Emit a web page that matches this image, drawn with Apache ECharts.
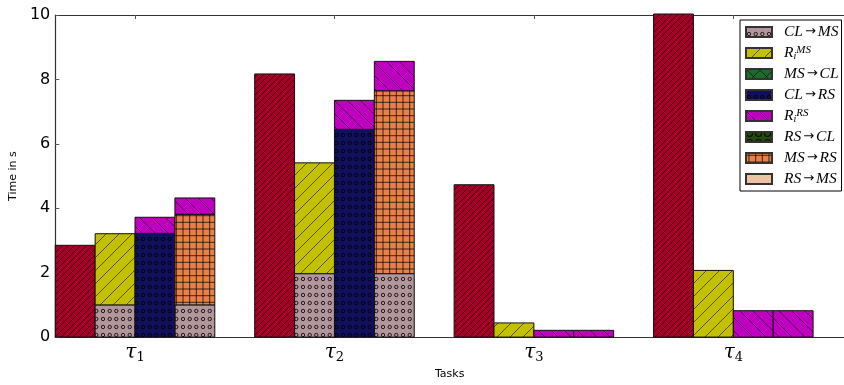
<!DOCTYPE html>
<html><head><meta charset="utf-8">
<script src="https://cdn.jsdelivr.net/npm/echarts@6/dist/echarts.min.js"></script>
<style>html,body{margin:0;padding:0;background:#fff}#c{width:844px;height:385px}</style>
</head><body><div id="c"></div>
<script>
// ---- data ----
const taskIndex = ['1', '2', '3', '4'];
const yTicks = [0, 2, 4, 6, 8, 10];
const legendNames = ['CL→MS', 'R_i^MS', 'MS→CL', 'CL→RS', 'R_i^RS', 'RS→CL', 'MS→RS', 'RS→MS'];
// bar slot 0 (reference bar, not in legend)
const baseline = [2.85, 8.17, 4.73, 10.6];
// bar slot 1
const slot1_clToMs = [1.0, 1.97, 0, 0];
const slot1_riMs = [2.21, 3.44, 0.44, 2.07];
const slot1_msToCl = [0, 0, 0, 0];
// bar slot 2
const slot2_clToRs = [3.22, 6.45, 0, 0];
const slot2_riRs = [0.50, 0.90, 0.21, 0.82];
const slot2_rsToCl = [0, 0, 0, 0];
// bar slot 3
const slot3_clToMs = [1.0, 1.97, 0, 0];
const slot3_msToRs = [2.81, 5.67, 0, 0];
const slot3_riRs = [0.51, 0.92, 0.21, 0.82];
const slot3_rsToMs = [0, 0, 0, 0];
const slot3_msToCl = [0, 0, 0, 0];

// ---- hatch patterns ----
function pat(bg, kind) {
  const c = document.createElement('canvas');
  let w = 13, h = 13;
  if (kind === 'dense/') { w = h = 6; }
  if (kind === 'dots') { w = 20; h = 8; }
  if (kind === 'grid') { w = 20; h = 20; }
  if (kind === 'bigO') { w = 9; h = 9; }
  c.width = w; c.height = h;
  const g = c.getContext('2d');
  g.fillStyle = bg; g.fillRect(0, 0, w, h);
  g.strokeStyle = 'rgba(0,0,0,0.8)'; g.lineWidth = 0.7;
  const line = (a, b, cc, d) => { g.beginPath(); g.moveTo(a, b); g.lineTo(cc, d); g.stroke(); };
  if (kind === 'dense/' || kind === '/' || kind === 'x') {
    for (const k of [-w, 0, w]) line(k, h, k + w, 0);
  }
  if (kind === '\\' || kind === 'x') {
    for (const k of [-w, 0, w]) line(k, 0, k + w, h);
  }
  if (kind === 'dots') {
    g.lineWidth = 1;
    for (const x of [3.3, 10, 16.7]) { g.beginPath(); g.arc(x, 4, 1.7, 0, Math.PI * 2); g.stroke(); }
  }
  if (kind === 'bigO') {
    g.lineWidth = 1.2; g.beginPath(); g.arc(4.5, 4.5, 3, 0, Math.PI * 2); g.stroke();
  }
  if (kind === 'grid') {
    g.lineWidth = 0.9;
    for (const x of [3.3, 10, 16.7]) { line(x, 0, x, h); line(0, x, w, x); }
  }
  return { image: c, repeat: 'repeat', x: 53, y: 339 };
}
const P = {
  base: pat('#a50026', 'dense/'),
  'CL→MS': pat('#b3959c', 'dots'),
  'R_i^MS': pat('#c2c000', '/'),
  'MS→CL': pat('#1c6b2c', 'x'),
  'CL→RS': pat('#10105c', 'dots'),
  'R_i^RS': pat('#c000c0', '\\'),
  'RS→CL': pat('#244a08', 'bigO'),
  'MS→RS': pat('#e8804a', 'grid'),
  'RS→MS': pat('#eec3a5', 'none')
};

// ---- stacks: slot -> list of [seriesName, values] bottom to top ----
const stacks = [
  [['base', baseline]],
  [['CL→MS', slot1_clToMs], ['R_i^MS', slot1_riMs], ['MS→CL', slot1_msToCl]],
  [['CL→RS', slot2_clToRs], ['R_i^RS', slot2_riRs], ['RS→CL', slot2_rsToCl]],
  [['CL→MS', slot3_clToMs], ['MS→RS', slot3_msToRs], ['R_i^RS', slot3_riRs], ['RS→MS', slot3_rsToMs], ['MS→CL', slot3_msToCl]]
];
const seriesData = {};
['base'].concat(legendNames).forEach(n => seriesData[n] = []);
stacks.forEach((segs, slot) => {
  taskIndex.forEach((t, gi) => {
    let acc = 0;
    segs.forEach(([name, vals]) => {
      const v = vals[gi];
      if (v > 0) seriesData[name].push([gi, slot, acc, acc + v]);
      acc += v;
    });
  });
});

function renderFor(name) {
  return function (params, api) {
    const gi = api.value(0), slot = api.value(1), lo = api.value(2), hi = api.value(3);
    const x0 = gi - 0.4 + slot * 0.2;
    const p0 = api.coord([x0, lo]);
    const p1 = api.coord([x0 + 0.2, hi]);
    const cs = params.coordSys;
    const shape = echarts.graphic.clipRectByRect(
      { x: p0[0], y: p1[1], width: p1[0] - p0[0], height: p0[1] - p1[1] },
      { x: cs.x, y: cs.y - 1, width: cs.width, height: cs.height + 1 });
    if (!shape) return null;
    return { type: 'rect', shape: shape, style: { fill: P[name], stroke: '#111', lineWidth: 1 } };
  };
}

const series = ['base'].concat(legendNames).map(n => ({
  type: 'custom', name: n, data: seriesData[n], renderItem: renderFor(n),
  encode: { x: 0, y: 3 },
  itemStyle: { color: P[n], borderColor: '#333', borderWidth: 1 },
  silent: true
}));

const legendRich = {
  'CL→MS': '{g|}{i|CL}{a|→}{i|MS}',
  'R_i^MS': '{g|}{i|R}{sub|i}{sup|MS}',
  'MS→CL': '{g|}{i|MS}{a|→}{i|CL}',
  'CL→RS': '{g|}{i|CL}{a|→}{i|RS}',
  'R_i^RS': '{g|}{i|R}{sub|i}{sup|RS}',
  'RS→CL': '{g|}{i|RS}{a|→}{i|CL}',
  'MS→RS': '{g|}{i|MS}{a|→}{i|RS}',
  'RS→MS': '{g|}{i|RS}{a|→}{i|MS}'
};
const serif = 'Liberation Serif';
const X_MIN = -0.4, X_MAX = 3.555;

const chart = echarts.init(document.getElementById('c'), null, { renderer: 'canvas' });
chart.setOption({
  animation: false,
  backgroundColor: '#fff',
  grid: { left: 53, top: 15, right: 0, height: 324 },
  xAxis: [{
    type: 'value', min: X_MIN, max: X_MAX, position: 'bottom',
    name: 'Tasks', nameLocation: 'middle', nameGap: 31,
    nameTextStyle: { fontFamily: 'DejaVu Sans', fontSize: 11, color: '#000' },
    axisLine: { show: true, onZero: false, lineStyle: { color: '#333', width: 1.2 } },
    axisTick: { show: true, inside: true, length: 4, customValues: [0, 1, 2, 3], lineStyle: { color: '#555' } },
    splitLine: { show: false },
    axisLabel: {
      customValues: [0, 1, 2, 3], margin: 5,
      formatter: v => '{t|τ}{s|' + taskIndex[Math.round(v)] + '}',
      rich: {
        t: { fontFamily: 'DejaVu Serif', fontStyle: 'italic', fontSize: 20, color: '#000', lineHeight: 22 },
        s: { fontFamily: 'DejaVu Serif', fontSize: 13, color: '#000', verticalAlign: 'bottom', lineHeight: 22 }
      }
    }
  }, {
    type: 'value', min: X_MIN, max: X_MAX, position: 'top',
    axisLine: { show: true, onZero: false, lineStyle: { color: '#333', width: 1.2 } },
    axisTick: { show: true, inside: true, length: 4, customValues: [0, 1, 2, 3], lineStyle: { color: '#555' } },
    axisLabel: { show: false }, splitLine: { show: false }
  }],
  yAxis: [{
    type: 'value', min: 0, max: 10, interval: 2,
    name: 'Time in s', nameLocation: 'middle', nameGap: 32, nameRotate: 90,
    nameTextStyle: { fontFamily: 'DejaVu Sans', fontSize: 11, color: '#000' },
    axisLine: { show: true, onZero: false, lineStyle: { color: '#333', width: 1.2 } },
    axisTick: { show: true, inside: true, length: 4, lineStyle: { color: '#555' } },
    splitLine: { show: false },
    axisLabel: { fontFamily: 'DejaVu Sans', fontSize: 16, color: '#000', margin: 5,
      formatter: v => yTicks.indexOf(v) >= 0 ? String(v) : '' }
  }],
  legend: {
    data: legendNames, orient: 'vertical', left: 740, top: 20,
    icon: 'rect', itemWidth: 26, itemHeight: 10, itemGap: 5,
    padding: [4, 3, 4, 5],
    borderColor: '#000', borderWidth: 1, backgroundColor: '#fff',
    selectedMode: false,
    formatter: n => legendRich[n],
    textStyle: {
      rich: {
        g: { width: 7, lineHeight: 16 },
        i: { fontFamily: serif, fontStyle: 'italic', fontSize: 15.5, color: '#000', lineHeight: 16 },
        a: { fontFamily: 'DejaVu Sans', fontSize: 13, color: '#000', lineHeight: 16, padding: [0, 2, 0, 2] },
        sub: { fontFamily: serif, fontStyle: 'italic', fontSize: 10, color: '#000', lineHeight: 16, verticalAlign: 'bottom' },
        sup: { fontFamily: serif, fontStyle: 'italic', fontSize: 11, color: '#000', lineHeight: 16, verticalAlign: 'top' }
      }
    }
  },
  series: series
});
</script></body></html>
